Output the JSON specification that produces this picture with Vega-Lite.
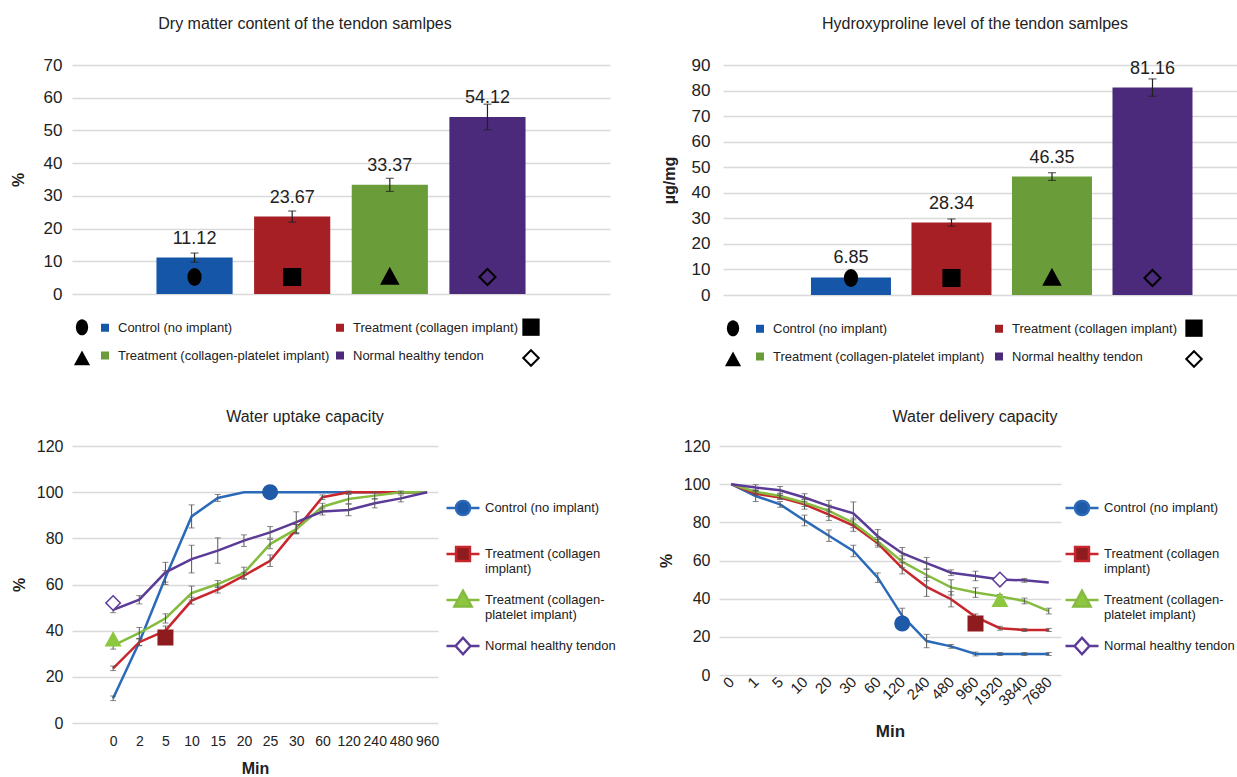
{
  "$schema": "https://vega.github.io/schema/vega-lite/v6.json",
  "background": "white",
  "padding": {"left": 10, "top": 16, "right": 0, "bottom": 0},
  "config": {
    "font": "Liberation Sans",
    "view": {"stroke": null},
    "axis": {"labelColor": "#222", "titleColor": "#222", "gridColor": "#d9d9d9", "gridWidth": 1.5, "domain": false, "ticks": false},
    "title": {"color": "#222", "fontWeight": "normal", "fontSize": 16},
    "legend": {"labelColor": "#222", "labelFontSize": 13, "labelLimit": 400}
  },
  "datasets": {
    "dry": [
      {"group": "Control (no implant)", "value": 11.12, "err": 1.4},
      {"group": "Treatment (collagen implant)", "value": 23.67, "err": 1.7},
      {"group": "Treatment (collagen-platelet implant)", "value": 33.37, "err": 2.0},
      {"group": "Normal healthy tendon", "value": 54.12, "err": 3.9}
    ],
    "hyp": [
      {"group": "Control (no implant)", "value": 6.85, "err": 1.5},
      {"group": "Treatment (collagen implant)", "value": 28.34, "err": 1.4},
      {"group": "Treatment (collagen-platelet implant)", "value": 46.35, "err": 1.5},
      {"group": "Normal healthy tendon", "value": 81.16, "err": 3.4}
    ],
    "uptake": [
      {"series": "Control (no implant)", "min": "0", "value": 10.7, "err": 1},
      {"series": "Control (no implant)", "min": "2", "value": 35, "err": 1.5},
      {"series": "Control (no implant)", "min": "5", "value": 63, "err": 3},
      {"series": "Control (no implant)", "min": "10", "value": 89.5, "err": 5},
      {"series": "Control (no implant)", "min": "15", "value": 97.5, "err": 1.5},
      {"series": "Control (no implant)", "min": "20", "value": 100, "err": 0},
      {"series": "Control (no implant)", "min": "25", "value": 100, "err": 0},
      {"series": "Control (no implant)", "min": "30", "value": 100, "err": 0},
      {"series": "Control (no implant)", "min": "60", "value": 100, "err": 0},
      {"series": "Control (no implant)", "min": "120", "value": 100, "err": 0},
      {"series": "Control (no implant)", "min": "240", "value": 100, "err": 0},
      {"series": "Control (no implant)", "min": "480", "value": 100, "err": 0},
      {"series": "Control (no implant)", "min": "960", "value": 100, "err": 0},
      {"series": "Treatment (collagen implant)", "min": "0", "value": 23.7, "err": 1},
      {"series": "Treatment (collagen implant)", "min": "2", "value": 35, "err": 1.5},
      {"series": "Treatment (collagen implant)", "min": "5", "value": 40, "err": 2},
      {"series": "Treatment (collagen implant)", "min": "10", "value": 53, "err": 1.5},
      {"series": "Treatment (collagen implant)", "min": "15", "value": 57.8, "err": 1.5},
      {"series": "Treatment (collagen implant)", "min": "20", "value": 63.8, "err": 1.5},
      {"series": "Treatment (collagen implant)", "min": "25", "value": 70.3, "err": 2.5},
      {"series": "Treatment (collagen implant)", "min": "30", "value": 84, "err": 2},
      {"series": "Treatment (collagen implant)", "min": "60", "value": 97.8, "err": 1},
      {"series": "Treatment (collagen implant)", "min": "120", "value": 100, "err": 0.5},
      {"series": "Treatment (collagen implant)", "min": "240", "value": 100, "err": 0},
      {"series": "Treatment (collagen implant)", "min": "480", "value": 100, "err": 0},
      {"series": "Treatment (collagen implant)", "min": "960", "value": 100, "err": 0},
      {"series": "Treatment (collagen-platelet implant)", "min": "0", "value": 33.5, "err": 1.5},
      {"series": "Treatment (collagen-platelet implant)", "min": "2", "value": 39, "err": 2.4},
      {"series": "Treatment (collagen-platelet implant)", "min": "5", "value": 45.3, "err": 2},
      {"series": "Treatment (collagen-platelet implant)", "min": "10", "value": 56.3, "err": 3},
      {"series": "Treatment (collagen-platelet implant)", "min": "15", "value": 60.2, "err": 1.5},
      {"series": "Treatment (collagen-platelet implant)", "min": "20", "value": 65, "err": 2.5},
      {"series": "Treatment (collagen-platelet implant)", "min": "25", "value": 77.5, "err": 2},
      {"series": "Treatment (collagen-platelet implant)", "min": "30", "value": 84, "err": 2},
      {"series": "Treatment (collagen-platelet implant)", "min": "60", "value": 93.7, "err": 1.5},
      {"series": "Treatment (collagen-platelet implant)", "min": "120", "value": 97, "err": 2},
      {"series": "Treatment (collagen-platelet implant)", "min": "240", "value": 98.5, "err": 1.5},
      {"series": "Treatment (collagen-platelet implant)", "min": "480", "value": 100, "err": 0.5},
      {"series": "Treatment (collagen-platelet implant)", "min": "960", "value": 100, "err": 0},
      {"series": "Normal healthy tendon", "min": "0", "value": 49, "err": 1.2},
      {"series": "Normal healthy tendon", "min": "2", "value": 53.4, "err": 1.8},
      {"series": "Normal healthy tendon", "min": "5", "value": 65.3, "err": 4.3},
      {"series": "Normal healthy tendon", "min": "10", "value": 71, "err": 6},
      {"series": "Normal healthy tendon", "min": "15", "value": 74.7, "err": 5.5},
      {"series": "Normal healthy tendon", "min": "20", "value": 79, "err": 2.5},
      {"series": "Normal healthy tendon", "min": "25", "value": 82.6, "err": 2.5},
      {"series": "Normal healthy tendon", "min": "30", "value": 87, "err": 4.5},
      {"series": "Normal healthy tendon", "min": "60", "value": 91.6, "err": 1.5},
      {"series": "Normal healthy tendon", "min": "120", "value": 92.3, "err": 2.5},
      {"series": "Normal healthy tendon", "min": "240", "value": 95.2, "err": 2},
      {"series": "Normal healthy tendon", "min": "480", "value": 97.3, "err": 1.5},
      {"series": "Normal healthy tendon", "min": "960", "value": 100, "err": 0}
    ],
    "uptake_markers": [
      {"series": "Control (no implant)", "min": "25", "value": 100},
      {"series": "Treatment (collagen implant)", "min": "5", "value": 37},
      {"series": "Treatment (collagen-platelet implant)", "min": "0", "value": 36},
      {"series": "Normal healthy tendon", "min": "0", "value": 52}
    ],
    "delivery": [
      {"series": "Control (no implant)", "min": "0", "value": 100, "err": 0},
      {"series": "Control (no implant)", "min": "1", "value": 93.8, "err": 2.9},
      {"series": "Control (no implant)", "min": "5", "value": 89.4, "err": 1.5},
      {"series": "Control (no implant)", "min": "10", "value": 81, "err": 2.8},
      {"series": "Control (no implant)", "min": "20", "value": 73, "err": 3},
      {"series": "Control (no implant)", "min": "30", "value": 65, "err": 3},
      {"series": "Control (no implant)", "min": "60", "value": 51, "err": 2.5},
      {"series": "Control (no implant)", "min": "120", "value": 31, "err": 4},
      {"series": "Control (no implant)", "min": "240", "value": 17.8, "err": 3.5},
      {"series": "Control (no implant)", "min": "480", "value": 15, "err": 1},
      {"series": "Control (no implant)", "min": "960", "value": 11, "err": 1},
      {"series": "Control (no implant)", "min": "1920", "value": 11, "err": 0.8},
      {"series": "Control (no implant)", "min": "3840", "value": 11, "err": 0.8},
      {"series": "Control (no implant)", "min": "7680", "value": 11, "err": 0.8},
      {"series": "Treatment (collagen implant)", "min": "0", "value": 100, "err": 0},
      {"series": "Treatment (collagen implant)", "min": "1", "value": 95, "err": 1},
      {"series": "Treatment (collagen implant)", "min": "5", "value": 93, "err": 1},
      {"series": "Treatment (collagen implant)", "min": "10", "value": 89.4, "err": 2.5},
      {"series": "Treatment (collagen implant)", "min": "20", "value": 84, "err": 3},
      {"series": "Treatment (collagen implant)", "min": "30", "value": 78.3, "err": 3},
      {"series": "Treatment (collagen implant)", "min": "60", "value": 69, "err": 2},
      {"series": "Treatment (collagen implant)", "min": "120", "value": 56, "err": 3},
      {"series": "Treatment (collagen implant)", "min": "240", "value": 46.2, "err": 5},
      {"series": "Treatment (collagen implant)", "min": "480", "value": 39.7, "err": 4},
      {"series": "Treatment (collagen implant)", "min": "960", "value": 30.5, "err": 1.5},
      {"series": "Treatment (collagen implant)", "min": "1920", "value": 24.5, "err": 1},
      {"series": "Treatment (collagen implant)", "min": "3840", "value": 23.6, "err": 0.8},
      {"series": "Treatment (collagen implant)", "min": "7680", "value": 23.6, "err": 0.8},
      {"series": "Treatment (collagen-platelet implant)", "min": "0", "value": 100, "err": 0},
      {"series": "Treatment (collagen-platelet implant)", "min": "1", "value": 96, "err": 1},
      {"series": "Treatment (collagen-platelet implant)", "min": "5", "value": 93.8, "err": 1.5},
      {"series": "Treatment (collagen-platelet implant)", "min": "10", "value": 90.3, "err": 2},
      {"series": "Treatment (collagen-platelet implant)", "min": "20", "value": 86, "err": 3},
      {"series": "Treatment (collagen-platelet implant)", "min": "30", "value": 79.7, "err": 2.5},
      {"series": "Treatment (collagen-platelet implant)", "min": "60", "value": 70, "err": 2},
      {"series": "Treatment (collagen-platelet implant)", "min": "120", "value": 59.4, "err": 3},
      {"series": "Treatment (collagen-platelet implant)", "min": "240", "value": 52.4, "err": 3},
      {"series": "Treatment (collagen-platelet implant)", "min": "480", "value": 45.9, "err": 4},
      {"series": "Treatment (collagen-platelet implant)", "min": "960", "value": 43.2, "err": 2.5},
      {"series": "Treatment (collagen-platelet implant)", "min": "1920", "value": 41.2, "err": 1},
      {"series": "Treatment (collagen-platelet implant)", "min": "3840", "value": 38.8, "err": 1.5},
      {"series": "Treatment (collagen-platelet implant)", "min": "7680", "value": 33.5, "err": 1.5},
      {"series": "Normal healthy tendon", "min": "0", "value": 100, "err": 0},
      {"series": "Normal healthy tendon", "min": "1", "value": 98.2, "err": 1.5},
      {"series": "Normal healthy tendon", "min": "5", "value": 96.8, "err": 2},
      {"series": "Normal healthy tendon", "min": "10", "value": 93, "err": 2},
      {"series": "Normal healthy tendon", "min": "20", "value": 88.5, "err": 3},
      {"series": "Normal healthy tendon", "min": "30", "value": 84.7, "err": 6},
      {"series": "Normal healthy tendon", "min": "60", "value": 72.7, "err": 3.5},
      {"series": "Normal healthy tendon", "min": "120", "value": 63.8, "err": 3},
      {"series": "Normal healthy tendon", "min": "240", "value": 58.6, "err": 3},
      {"series": "Normal healthy tendon", "min": "480", "value": 53.6, "err": 1.5},
      {"series": "Normal healthy tendon", "min": "960", "value": 51.9, "err": 2.5},
      {"series": "Normal healthy tendon", "min": "1920", "value": 50, "err": 2},
      {"series": "Normal healthy tendon", "min": "3840", "value": 49.6, "err": 1},
      {"series": "Normal healthy tendon", "min": "7680", "value": 48.5, "err": 0}
    ],
    "delivery_markers": [
      {"series": "Control (no implant)", "min": "120", "value": 27},
      {"series": "Treatment (collagen implant)", "min": "960", "value": 27},
      {"series": "Treatment (collagen-platelet implant)", "min": "1920", "value": 39},
      {"series": "Normal healthy tendon", "min": "1920", "value": 50}
    ]
  },
  "resolve": {"scale": {"color": "independent", "shape": "independent", "fill": "independent", "stroke": "independent", "size": "independent"}, "legend": {"color": "independent", "shape": "independent", "fill": "independent", "stroke": "independent", "size": "independent"}},
  "spacing": 38,
  "columns": 1,
  "align": "none",
  "concat": [
    {
      "spacing": 51,
      "resolve": {"scale": {"color": "independent", "shape": "independent", "size": "independent", "stroke": "independent"}, "legend": {"color": "independent", "shape": "independent", "size": "independent", "stroke": "independent"}},
      "hconcat": [
        {
          "width": 538, "height": 229,
          "title": {"text": "Dry matter content of the tendon samlpes", "offset": 24, "dx": -36},
          "data": {"name": "dry"},
          "encoding": {
            "x": {"field": "group", "type": "nominal", "sort": null, "axis": null, "scale": {"paddingInner": 0.22, "paddingOuter": 0.865}},
            "y": {"field": "value", "type": "quantitative", "scale": {"domain": [0, 70]}, "axis": {"title": "%", "values": [0, 10, 20, 30, 40, 50, 60, 70], "labelFontSize": 17, "labelPadding": 10, "titleFontSize": 16, "titleFontWeight": "bold", "titlePadding": 17, "grid": true}}
          },
          "layer": [
            {
              "mark": {"type": "bar"},
              "encoding": {
                "color": {"field": "group", "type": "nominal",
                  "scale": {"domain": ["m1", "Control (no implant)", "Treatment (collagen implant)", "m2", "m3", "Treatment (collagen-platelet implant)", "Normal healthy tendon", "m4"], "range": ["black", "#1556a8", "#a51f24", "black", "black", "#6a9d3a", "#4b2a7b", "white"]},
                  "legend": {
                    "title": null, "orient": "bottom", "direction": "horizontal", "columns": 4, "offset": 23,
                    "labelFontSize": 13, "labelOffset": 3, "columnPadding": 0, "rowPadding": 6, "symbolStrokeWidth": 2,
                    "labelExpr": "indexof(['m1','m2','m3','m4'], datum.label) >= 0 ? '' : datum.label"
                  }
                }
              }
            },
            {
              "mark": {"type": "point", "opacity": 0, "filled": true},
              "encoding": {
                "y": {"datum": 0},
                "shape": {"field": "group", "type": "nominal", "scale": {"domain": ["m1", "Control (no implant)", "Treatment (collagen implant)", "m2", "m3", "Treatment (collagen-platelet implant)", "Normal healthy tendon", "m4"], "range": ["M0,-1C0.42,-1 0.76,-0.55 0.76,0C0.76,0.55 0.42,1 0,1C-0.42,1 -0.76,0.55 -0.76,0C-0.76,-0.55 -0.42,-1 0,-1Z", "square", "square", "square", "M0,-1L1,0.85L-1,0.85Z", "square", "square", "diamond"]}},
                "size": {"field": "group", "type": "nominal", "scale": {"type": "ordinal", "domain": ["m1", "Control (no implant)", "Treatment (collagen implant)", "m2", "m3", "Treatment (collagen-platelet implant)", "Normal healthy tendon", "m4"], "range": [260, 64, 64, 300, 260, 64, 64, 240]}},
                "stroke": {"field": "group", "type": "nominal", "scale": {"domain": ["m1", "Control (no implant)", "Treatment (collagen implant)", "m2", "m3", "Treatment (collagen-platelet implant)", "Normal healthy tendon", "m4"], "range": ["transparent", "transparent", "transparent", "transparent", "transparent", "transparent", "transparent", "black"]}}
              }
            },
            {
              "mark": {"type": "errorbar", "color": "#222", "thickness": 1.2, "ticks": {"size": 8, "thickness": 1.2, "color": "#222"}},
              "encoding": {"yError": {"field": "err"}}
            },
            {
              "mark": {"type": "text", "baseline": "bottom", "dy": -10, "fontSize": 18, "color": "#222"},
              "encoding": {"text": {"field": "value", "type": "quantitative", "format": ".2f"}}
            },
            {
              "mark": {"type": "point", "filled": true, "yOffset": -17, "size": 260, "stroke": "black", "strokeWidth": 2, "opacity": 1},
              "encoding": {
                "y": {"datum": 0},
                "shape": {"condition": [
                  {"test": "datum.group === 'Control (no implant)'", "value": "M0,-1C0.42,-1 0.76,-0.55 0.76,0C0.76,0.55 0.42,1 0,1C-0.42,1 -0.76,0.55 -0.76,0C-0.76,-0.55 -0.42,-1 0,-1Z"},
                  {"test": "datum.group === 'Treatment (collagen implant)'", "value": "square"},
                  {"test": "datum.group === 'Treatment (collagen-platelet implant)'", "value": "M0,-1L1,0.85L-1,0.85Z"}
                ], "value": "diamond"},
                "fill": {"condition": {"test": "datum.group === 'Normal healthy tendon'", "value": "transparent"}, "value": "black"}
              }
            }
          ]
        },
        {
          "width": 514, "height": 230,
          "title": {"text": "Hydroxyproline level of the tendon samlpes", "offset": 24, "dx": -5},
          "data": {"name": "hyp"},
          "encoding": {
            "x": {"field": "group", "type": "nominal", "sort": null, "axis": null, "scale": {"paddingInner": 0.204, "paddingOuter": 0.659, "align": 0.664}},
            "y": {"field": "value", "type": "quantitative", "scale": {"domain": [0, 90]}, "axis": {"title": "µg/mg", "values": [0, 10, 20, 30, 40, 50, 60, 70, 80, 90], "labelFontSize": 17, "labelPadding": 13, "titleFontSize": 16, "titleFontWeight": "bold", "titlePadding": 14, "grid": true}}
          },
          "layer": [
            {
              "mark": {"type": "bar"},
              "encoding": {
                "color": {"field": "group", "type": "nominal",
                  "scale": {"domain": ["m1", "Control (no implant)", "Treatment (collagen implant)", "m2", "m3", "Treatment (collagen-platelet implant)", "Normal healthy tendon", "m4"], "range": ["black", "#1556a8", "#a51f24", "black", "black", "#6a9d3a", "#4b2a7b", "white"]},
                  "legend": {
                    "title": null, "orient": "bottom", "direction": "horizontal", "columns": 4, "offset": 23,
                    "labelFontSize": 13, "labelOffset": 3, "columnPadding": 4, "rowPadding": 6, "symbolStrokeWidth": 2,
                    "labelExpr": "indexof(['m1','m2','m3','m4'], datum.label) >= 0 ? '' : datum.label"
                  }
                }
              }
            },
            {
              "mark": {"type": "point", "opacity": 0, "filled": true},
              "encoding": {
                "y": {"datum": 0},
                "shape": {"field": "group", "type": "nominal", "scale": {"domain": ["m1", "Control (no implant)", "Treatment (collagen implant)", "m2", "m3", "Treatment (collagen-platelet implant)", "Normal healthy tendon", "m4"], "range": ["M0,-1C0.42,-1 0.76,-0.55 0.76,0C0.76,0.55 0.42,1 0,1C-0.42,1 -0.76,0.55 -0.76,0C-0.76,-0.55 -0.42,-1 0,-1Z", "square", "square", "square", "M0,-1L1,0.85L-1,0.85Z", "square", "square", "diamond"]}},
                "size": {"field": "group", "type": "nominal", "scale": {"type": "ordinal", "domain": ["m1", "Control (no implant)", "Treatment (collagen implant)", "m2", "m3", "Treatment (collagen-platelet implant)", "Normal healthy tendon", "m4"], "range": [260, 64, 64, 300, 260, 64, 64, 240]}},
                "stroke": {"field": "group", "type": "nominal", "scale": {"domain": ["m1", "Control (no implant)", "Treatment (collagen implant)", "m2", "m3", "Treatment (collagen-platelet implant)", "Normal healthy tendon", "m4"], "range": ["transparent", "transparent", "transparent", "transparent", "transparent", "transparent", "transparent", "black"]}}
              }
            },
            {
              "mark": {"type": "errorbar", "color": "#222", "thickness": 1.2, "ticks": {"size": 8, "thickness": 1.2, "color": "#222"}},
              "encoding": {"yError": {"field": "err"}}
            },
            {
              "mark": {"type": "text", "baseline": "bottom", "dy": -10, "fontSize": 18, "color": "#222"},
              "encoding": {"text": {"field": "value", "type": "quantitative", "format": ".2f"}}
            },
            {
              "mark": {"type": "point", "filled": true, "size": 260, "stroke": "black", "strokeWidth": 2, "opacity": 1},
              "encoding": {
                "y": {"datum": 0},
                "yOffset": {"condition": {"test": "datum.group === 'Control (no implant)'", "value": 0}, "value": -17},
                "shape": {"condition": [
                  {"test": "datum.group === 'Control (no implant)'", "value": "M0,-1C0.42,-1 0.76,-0.55 0.76,0C0.76,0.55 0.42,1 0,1C-0.42,1 -0.76,0.55 -0.76,0C-0.76,-0.55 -0.42,-1 0,-1Z"},
                  {"test": "datum.group === 'Treatment (collagen implant)'", "value": "square"},
                  {"test": "datum.group === 'Treatment (collagen-platelet implant)'", "value": "M0,-1L1,0.85L-1,0.85Z"}
                ], "value": "diamond"},
                "fill": {"condition": {"test": "datum.group === 'Normal healthy tendon'", "value": "transparent"}, "value": "black"}
              }
            }
          ]
        }
      ]
    },
    {
      "spacing": 42,
      "resolve": {"scale": {"color": "independent", "shape": "independent", "fill": "independent", "stroke": "independent"}, "legend": {"color": "independent", "shape": "independent", "fill": "independent", "stroke": "independent"}},
      "hconcat": [
        {
          "width": 366, "height": 277,
          "title": {"text": "Water uptake capacity", "offset": 13, "dx": 50},
          "data": {"name": "uptake"},
          "encoding": {
            "x": {"field": "min", "type": "ordinal", "sort": ["0", "2", "5", "10", "15", "20", "25", "30", "60", "120", "240", "480", "960"], "scale": {"type": "point", "padding": 0.995, "align": 0.79},
              "axis": {"title": "Min", "labelAngle": 0, "labelFontSize": 14, "labelPadding": 11, "titleFontSize": 16, "titleFontWeight": "bold", "titlePadding": 12, "grid": false}},
            "y": {"field": "value", "type": "quantitative", "scale": {"domain": [0, 120]},
              "axis": {"title": "%", "values": [0, 20, 40, 60, 80, 100, 120], "labelFontSize": 16, "labelPadding": 9, "titleFontSize": 16, "titleFontWeight": "bold", "titlePadding": 9, "grid": true}}
          },
          "layer": [
            {
              "mark": {"type": "line", "strokeWidth": 2.5},
              "encoding": {
                "color": {"field": "series", "type": "nominal", "sort": null,
                  "scale": {"domain": ["Control (no implant)", "Treatment (collagen implant)", "Treatment (collagen-platelet implant)", "Normal healthy tendon"], "range": ["#2a6ab8", "#c8262c", "#85bb3e", "#5b3b97"]},
                  "legend": {
                    "title": " ", "titleFontSize": 8, "titlePadding": 36, "orient": "right", "offset": 7,
                    "symbolSize": 1089, "symbolStrokeWidth": 2.5, "symbolOpacity": 1, "labelFontSize": 13, "labelOffset": 4, "rowPadding": 6, "gridAlign": "all",
                    "labelExpr": "datum.label == 'Treatment (collagen implant)' ? ['Treatment (collagen', 'implant)'] : datum.label == 'Treatment (collagen-platelet implant)' ? ['Treatment (collagen-', 'platelet implant)'] : datum.label"
                  }
                }
              }
            },
            {
              "mark": {"type": "point", "size": 0, "filled": true, "opacity": 1},
              "encoding": {
                "shape": {"field": "series", "type": "nominal", "scale": {"domain": ["Control (no implant)", "Treatment (collagen implant)", "Treatment (collagen-platelet implant)", "Normal healthy tendon"], "range": ["M-1,0H-0.43M0.43,0H1M-0.43,0A0.43,0.43 0 1,0 0.43,0A0.43,0.43 0 1,0 -0.43,0Z", "M-1,0H-0.42M0.42,0H1M-0.42,-0.42H0.42V0.42H-0.42Z", "M-1,0H-0.3M0.3,0H1M0,-0.55L0.52,0.4H-0.52Z", "M-1,0H-0.45M0.45,0H1M0,-0.5L0.45,0L0,0.5L-0.45,0Z"]}},
                "fill": {"field": "series", "type": "nominal", "scale": {"domain": ["Control (no implant)", "Treatment (collagen implant)", "Treatment (collagen-platelet implant)", "Normal healthy tendon"], "range": ["#1f5aa8", "#8e1b1e", "#8dc63f", "white"]}},
                "stroke": {"field": "series", "type": "nominal", "scale": {"domain": ["Control (no implant)", "Treatment (collagen implant)", "Treatment (collagen-platelet implant)", "Normal healthy tendon"], "range": ["#2a6ab8", "#c8262c", "#7aae3a", "#5b3b97"]}}
              }
            },
            {
              "transform": [{"filter": "datum.err > 0"}],
              "mark": {"type": "errorbar", "color": "#555", "thickness": 1, "ticks": {"size": 6, "thickness": 1, "color": "#555"}},
              "encoding": {"yError": {"field": "err"}}
            },
            {
              "data": {"name": "uptake_markers"},
              "mark": {"type": "point", "filled": true, "size": 210, "strokeWidth": 1.5, "opacity": 1},
              "encoding": {
                "shape": {"condition": [
                  {"test": "datum.series === 'Control (no implant)'", "value": "circle"},
                  {"test": "datum.series === 'Treatment (collagen implant)'", "value": "square"},
                  {"test": "datum.series === 'Treatment (collagen-platelet implant)'", "value": "M0,-1L1,0.8L-1,0.8Z"}
                ], "value": "diamond"},
                "fill": {"condition": [
                  {"test": "datum.series === 'Control (no implant)'", "value": "#1f5aa8"},
                  {"test": "datum.series === 'Treatment (collagen implant)'", "value": "#8e1b1e"},
                  {"test": "datum.series === 'Treatment (collagen-platelet implant)'", "value": "#8dc63f"}
                ], "value": "white"},
                "stroke": {"condition": [
                  {"test": "datum.series === 'Control (no implant)'", "value": "#1f5aa8"},
                  {"test": "datum.series === 'Treatment (collagen implant)'", "value": "#8e1b1e"},
                  {"test": "datum.series === 'Treatment (collagen-platelet implant)'", "value": "#8dc63f"}
                ], "value": "#5b3b97"}
              }
            }
          ]
        },
        {
          "width": 342, "height": 229,
          "title": {"text": "Water delivery capacity", "offset": 13, "dx": 85},
          "data": {"name": "delivery"},
          "encoding": {
            "x": {"field": "min", "type": "ordinal", "sort": ["0", "1", "5", "10", "20", "30", "60", "120", "240", "480", "960", "1920", "3840", "7680"], "scale": {"type": "point", "padding": 0.5},
              "axis": {"title": "Min", "labelAngle": -45, "labelAlign": "right", "labelBaseline": "middle", "labelFontSize": 15, "labelPadding": 4, "titleFontSize": 17, "titleFontWeight": "bold", "titlePadding": 15, "grid": false}},
            "y": {"field": "value", "type": "quantitative", "scale": {"domain": [0, 120]},
              "axis": {"title": "%", "values": [0, 20, 40, 60, 80, 100, 120], "labelFontSize": 16, "labelPadding": 9, "titleFontSize": 16, "titleFontWeight": "bold", "titlePadding": 9, "grid": true}}
          },
          "layer": [
            {
              "mark": {"type": "line", "strokeWidth": 2.5},
              "encoding": {
                "color": {"field": "series", "type": "nominal", "sort": null,
                  "scale": {"domain": ["Control (no implant)", "Treatment (collagen implant)", "Treatment (collagen-platelet implant)", "Normal healthy tendon"], "range": ["#2a6ab8", "#c8262c", "#85bb3e", "#5b3b97"]},
                  "legend": {
                    "title": " ", "titleFontSize": 8, "titlePadding": 36, "orient": "right", "offset": 3,
                    "symbolSize": 1089, "symbolStrokeWidth": 2.5, "symbolOpacity": 1, "labelFontSize": 13, "labelOffset": 4, "rowPadding": 6, "gridAlign": "all",
                    "labelExpr": "datum.label == 'Treatment (collagen implant)' ? ['Treatment (collagen', 'implant)'] : datum.label == 'Treatment (collagen-platelet implant)' ? ['Treatment (collagen-', 'platelet implant)'] : datum.label"
                  }
                }
              }
            },
            {
              "mark": {"type": "point", "size": 0, "filled": true, "opacity": 1},
              "encoding": {
                "shape": {"field": "series", "type": "nominal", "scale": {"domain": ["Control (no implant)", "Treatment (collagen implant)", "Treatment (collagen-platelet implant)", "Normal healthy tendon"], "range": ["M-1,0H-0.43M0.43,0H1M-0.43,0A0.43,0.43 0 1,0 0.43,0A0.43,0.43 0 1,0 -0.43,0Z", "M-1,0H-0.42M0.42,0H1M-0.42,-0.42H0.42V0.42H-0.42Z", "M-1,0H-0.3M0.3,0H1M0,-0.55L0.52,0.4H-0.52Z", "M-1,0H-0.45M0.45,0H1M0,-0.5L0.45,0L0,0.5L-0.45,0Z"]}},
                "fill": {"field": "series", "type": "nominal", "scale": {"domain": ["Control (no implant)", "Treatment (collagen implant)", "Treatment (collagen-platelet implant)", "Normal healthy tendon"], "range": ["#1f5aa8", "#8e1b1e", "#8dc63f", "white"]}},
                "stroke": {"field": "series", "type": "nominal", "scale": {"domain": ["Control (no implant)", "Treatment (collagen implant)", "Treatment (collagen-platelet implant)", "Normal healthy tendon"], "range": ["#2a6ab8", "#c8262c", "#7aae3a", "#5b3b97"]}}
              }
            },
            {
              "transform": [{"filter": "datum.err > 0"}],
              "mark": {"type": "errorbar", "color": "#555", "thickness": 1, "ticks": {"size": 6, "thickness": 1, "color": "#555"}},
              "encoding": {"yError": {"field": "err"}}
            },
            {
              "data": {"name": "delivery_markers"},
              "mark": {"type": "point", "filled": true, "size": 210, "strokeWidth": 1.5, "opacity": 1},
              "encoding": {
                "shape": {"condition": [
                  {"test": "datum.series === 'Control (no implant)'", "value": "circle"},
                  {"test": "datum.series === 'Treatment (collagen implant)'", "value": "square"},
                  {"test": "datum.series === 'Treatment (collagen-platelet implant)'", "value": "M0,-1L1,0.8L-1,0.8Z"}
                ], "value": "diamond"},
                "fill": {"condition": [
                  {"test": "datum.series === 'Control (no implant)'", "value": "#1f5aa8"},
                  {"test": "datum.series === 'Treatment (collagen implant)'", "value": "#8e1b1e"},
                  {"test": "datum.series === 'Treatment (collagen-platelet implant)'", "value": "#8dc63f"}
                ], "value": "white"},
                "stroke": {"condition": [
                  {"test": "datum.series === 'Control (no implant)'", "value": "#1f5aa8"},
                  {"test": "datum.series === 'Treatment (collagen implant)'", "value": "#8e1b1e"},
                  {"test": "datum.series === 'Treatment (collagen-platelet implant)'", "value": "#8dc63f"}
                ], "value": "#5b3b97"}
              }
            }
          ]
        }
      ]
    }
  ]
}
